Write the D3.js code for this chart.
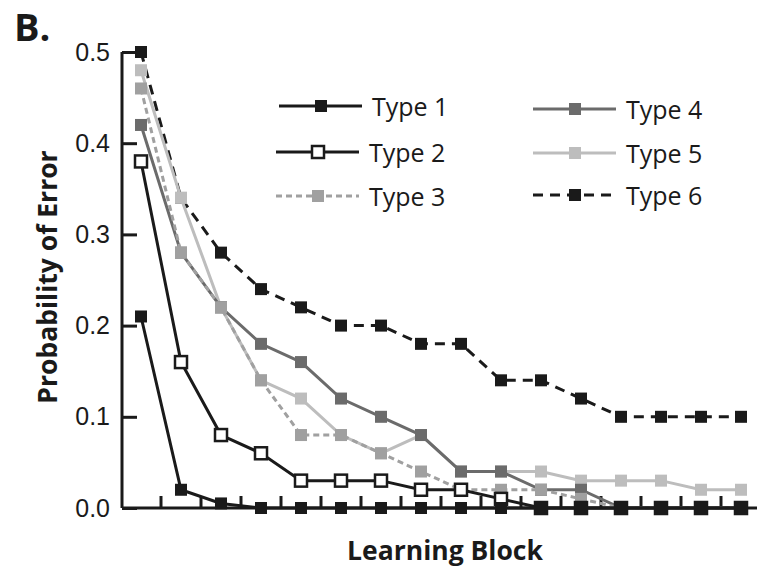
<!DOCTYPE html>
<meta charset="utf-8">
<title>Probability of Error by Learning Block</title>
<style>
  body { margin: 0; background: #fff; }
  svg { font-family: "Open Sans", sans-serif; }
  .axis text { font-size: 25px; fill: #1a1a1a; }
  .axis path, .axis line { stroke: #1a1a1a; stroke-width: 3; }
</style>
<body>
<svg width="757" height="569" id="chart"></svg>
<script src="https://d3js.org/d3.v7.min.js"></script>
<script>
// learning blocks 1..16
var blocks = d3.range(1, 17);

var type1 = [0.21, 0.02, 0.005, 0, 0, 0, 0, 0, 0, 0, 0, 0, 0, 0, 0, 0];
var type2 = [0.38, 0.16, 0.08, 0.06, 0.03, 0.03, 0.03, 0.02, 0.02, 0.01, 0, 0, 0, 0, 0, 0];
var type3 = [0.46, 0.28, 0.22, 0.14, 0.08, 0.08, 0.06, 0.04, 0.02, 0.02, 0.02, 0.01, 0, 0, 0, 0];
var type4 = [0.42, 0.28, 0.22, 0.18, 0.16, 0.12, 0.10, 0.08, 0.04, 0.04, 0.02, 0.02, 0, 0, 0, 0];
var type5 = [0.48, 0.34, 0.22, 0.14, 0.12, 0.08, 0.06, 0.08, 0.04, 0.04, 0.04, 0.03, 0.03, 0.03, 0.02, 0.02];
var type6 = [0.50, 0.34, 0.28, 0.24, 0.22, 0.20, 0.20, 0.18, 0.18, 0.14, 0.14, 0.12, 0.10, 0.10, 0.10, 0.10];

var yTicks = [0, 0.1, 0.2, 0.3, 0.4, 0.5];

var series = [
  {name: "Type 6", values: type6, color: "#1a1a1a", dash: "10,7", open: false, lx: 533, ly: 195},
  {name: "Type 5", values: type5, color: "#bdbdbd", dash: null, open: false, lx: 533, ly: 153},
  {name: "Type 4", values: type4, color: "#6b6b6b", dash: null, open: false, lx: 533, ly: 109},
  {name: "Type 3", values: type3, color: "#a0a0a0", dash: "6,4", open: false, lx: 276, ly: 196},
  {name: "Type 2", values: type2, color: "#1a1a1a", dash: null, open: true, lx: 276, ly: 152},
  {name: "Type 1", values: type1, color: "#1a1a1a", dash: null, open: false, lx: 279, ly: 106}
];

var svg = d3.select("#chart");

var x = d3.scaleLinear().domain([1, 16]).range([141, 741]);
var y = d3.scaleLinear().domain([0, 0.5]).range([508, 52]);

// y axis, ticks pointing inward
var yAxis = svg.append("g").attr("class", "axis")
    .attr("transform", "translate(122,0)")
    .call(d3.axisLeft(y).tickValues(yTicks).tickSize(-15).tickSizeOuter(0)
      .tickPadding(12).tickFormat(d3.format(".1f")));
yAxis.select(".domain").attr("d", "M0," + y(0.5) + "V" + y(0));

// x axis: line plus small ticks between blocks
var xg = svg.append("g").attr("class", "axis");
xg.append("line").attr("x1", 122).attr("x2", 757).attr("y1", y(0)).attr("y2", y(0));
xg.selectAll(".xt")
  .data(blocks.slice(0, 15))
  .enter().append("line")
    .attr("class", "xt")
    .attr("x1", function(d) { return x(d + 0.5); })
    .attr("x2", function(d) { return x(d + 0.5); })
    .attr("y1", y(0)).attr("y2", y(0) - 12);

var line = d3.line()
    .x(function(d, i) { return x(blocks[i]); })
    .y(function(d) { return y(d); });

series.forEach(function(s) {
  var g = svg.append("g");
  g.append("path")
    .attr("d", line(s.values))
    .attr("fill", "none")
    .attr("stroke", s.color)
    .attr("stroke-width", 3)
    .attr("stroke-dasharray", s.dash);
  g.selectAll("rect")
    .data(s.values)
    .enter().append("rect")
      .attr("x", function(d, i) { return x(blocks[i]) - 6; })
      .attr("y", function(d) { return y(d) - 6; })
      .attr("width", 12).attr("height", 12)
      .attr("fill", s.open ? "#fff" : s.color)
      .attr("stroke", s.open ? s.color : "none")
      .attr("stroke-width", s.open ? 2.5 : 0);
});

// legend
var lg = svg.append("g").selectAll("g")
  .data(series)
  .enter().append("g")
    .attr("transform", function(s) { return "translate(" + s.lx + "," + s.ly + ")"; });
lg.append("line")
    .attr("x1", 0).attr("x2", 83)
    .attr("stroke", function(s) { return s.color; })
    .attr("stroke-width", 3)
    .attr("stroke-dasharray", function(s) { return s.dash; });
lg.append("rect")
    .attr("x", 36).attr("y", -6).attr("width", 12).attr("height", 12)
    .attr("fill", function(s) { return s.open ? "#fff" : s.color; })
    .attr("stroke", function(s) { return s.open ? s.color : "none"; })
    .attr("stroke-width", 2.5);
lg.append("text")
    .attr("x", 93).attr("y", 10)
    .attr("font-size", 25).attr("fill", "#1a1a1a")
    .text(function(s) { return s.name; });

// axis titles
svg.append("text")
    .attr("transform", "translate(57,277) rotate(-90)")
    .attr("text-anchor", "middle")
    .attr("font-size", 26.5).attr("font-weight", "bold").attr("fill", "#1a1a1a")
    .text("Probability of Error");

svg.append("text")
    .attr("x", 445).attr("y", 560)
    .attr("text-anchor", "middle")
    .attr("font-size", 26.5).attr("font-weight", "bold").attr("fill", "#1a1a1a")
    .text("Learning Block");

svg.append("text")
    .attr("x", 14).attr("y", 41)
    .attr("font-size", 38).attr("font-weight", "bold").attr("fill", "#1a1a1a")
    .text("B.");
</script>
</body>
